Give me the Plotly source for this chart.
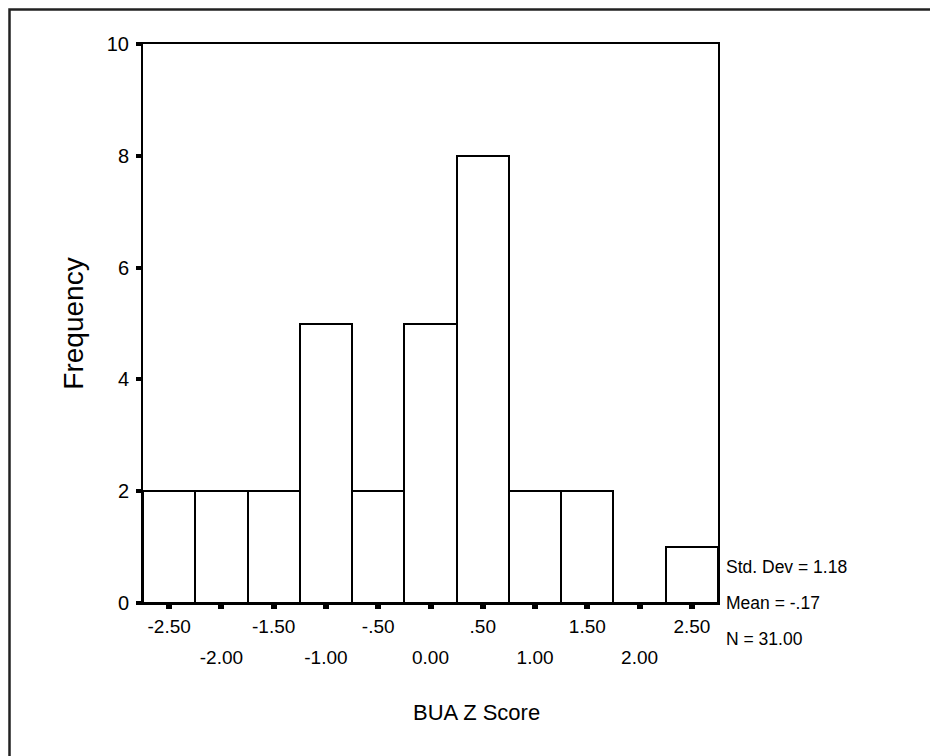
import plotly.graph_objects as go

# Histogram data (bin centers, counts)
bin_centers = [-2.5, -2.0, -1.5, -1.0, -0.5, 0.0, 0.5, 1.0, 1.5, 2.0, 2.5]
counts = [2, 2, 2, 5, 2, 5, 8, 2, 2, 0, 1]
upper_ticks = [-2.5, -1.5, -0.5, 0.5, 1.5, 2.5]
upper_labels = ["-2.50", "-1.50", "-.50", ".50", "1.50", "2.50"]
lower_ticks = [-2.0, -1.0, 0.0, 1.0, 2.0]
lower_labels = ["-2.00", "-1.00", "0.00", "1.00", "2.00"]
y_ticks = [0, 2, 4, 6, 8, 10]
stats_lines = ["Std. Dev = 1.18", "Mean = -.17", "N = 31.00"]
x_title = "BUA Z Score"
y_title = "Frequency"
bin_width = 0.5

FONT = "Liberation Sans, Arial, sans-serif"
OFF = 8  # page offset of the plot div (body margin)
W, H = 938 - OFF, 756 - OFF
L, R, T, B = 143 - OFF, W - (718 - OFF), 44 - OFF, H - (603 - OFF)
pw, ph = W - L - R, H - T - B

def px_to_paper_x(px):
    return (px - OFF - L) / pw

def px_to_paper_y(py):
    return (H - B - (py - OFF)) / ph

fig = go.Figure()
fig.add_trace(go.Bar(
    x=bin_centers, y=counts, width=bin_width,
    marker=dict(color="white", line=dict(color="black", width=2)),
    hoverinfo="skip", showlegend=False,
))
fig.add_trace(go.Scatter(
    x=bin_centers, y=counts, xaxis="x2", mode="markers",
    marker=dict(opacity=0), hoverinfo="skip", showlegend=False,
))

fig.update_layout(
    width=W, height=H,
    margin=dict(l=L, r=R, t=T, b=B, pad=0),
    paper_bgcolor="white", plot_bgcolor="white",
    font=dict(family=FONT, color="black", size=17),
    bargap=0,
    xaxis=dict(
        range=[-2.75, 2.75], tickmode="array",
        tickvals=bin_centers,
        ticktext=[upper_labels[upper_ticks.index(v)] if v in upper_ticks else "" for v in bin_centers],
        ticks="outside", ticklen=4, tickwidth=6, tickcolor="black",
        showline=True, linecolor="black", linewidth=2, mirror=True,
        showgrid=False, zeroline=False, tickfont=dict(size=19),
        ticklabelstandoff=1,
    ),
    xaxis2=dict(
        range=[-2.75, 2.75], overlaying="x", side="bottom", anchor="y",
        tickmode="array", tickvals=lower_ticks, ticktext=lower_labels,
        ticks="", showline=False, showgrid=False, zeroline=False,
        tickfont=dict(size=19), ticklabelstandoff=41,
    ),
    yaxis=dict(
        range=[0, 10], tickmode="array", tickvals=y_ticks,
        ticktext=[str(v) for v in y_ticks],
        ticks="outside", ticklen=5, tickwidth=4, tickcolor="black",
        showline=True, linecolor="black", linewidth=2, mirror=True,
        showgrid=False, zeroline=False, tickfont=dict(size=20),
        ticklabelstandoff=3,
        title=dict(text=y_title, font=dict(size=28), standoff=15),
    ),
)

# x-axis title
fig.add_annotation(
    text=x_title, xref="paper", yref="paper",
    x=px_to_paper_x(476), y=px_to_paper_y(712),
    xanchor="center", yanchor="middle", showarrow=False,
    font=dict(size=22),
)

# statistics text
for i, line in enumerate(stats_lines):
    fig.add_annotation(
        text=line, xref="paper", yref="paper",
        x=px_to_paper_x(724), y=px_to_paper_y(567 + 36 * i),
        xanchor="left", yanchor="middle", showarrow=False,
        font=dict(size=17.5),
    )

# outer frame (top-left corner just inside the canvas; right/bottom run off the page)
fig.add_shape(
    type="rect", xref="paper", yref="paper",
    x0=px_to_paper_x(9.5), x1=px_to_paper_x(960),
    y0=px_to_paper_y(780), y1=px_to_paper_y(9.5),
    line=dict(color="#222222", width=2.5), fillcolor="rgba(0,0,0,0)",
    layer="below",
)

fig.write_html("out.html")
